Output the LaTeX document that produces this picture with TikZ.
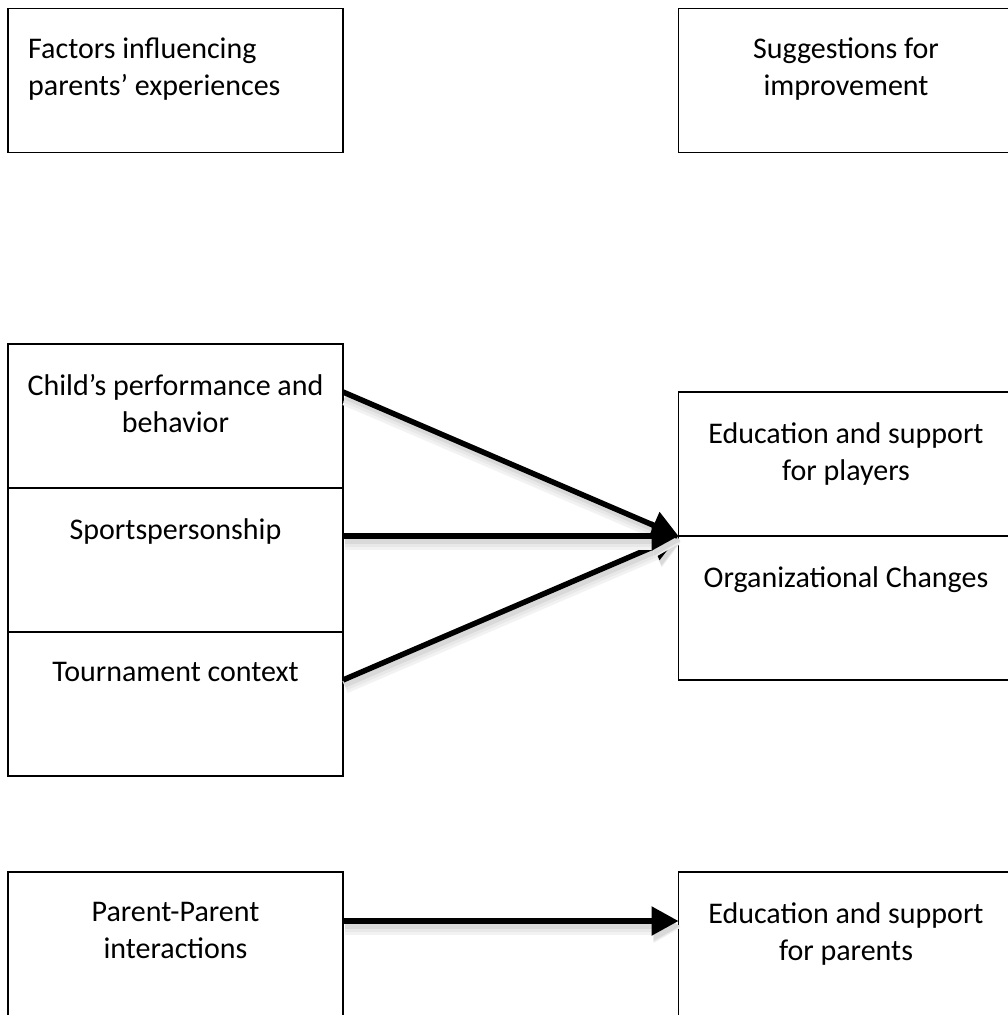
\documentclass[tikz,border=0pt]{standalone}
\usepackage{fontspec}
\setmainfont{Carlito}
\usetikzlibrary{arrows.meta,calc}
\begin{document}
\begin{tikzpicture}[x=1pt,y=-1pt,
  box/.style={draw=black, line width=1.5pt, minimum width=335pt, minimum height=144pt, inner sep=0pt, outer sep=0pt},
  lbl/.style={font=\fontsize{30pt}{37pt}\selectfont, align=center, inner sep=0pt, anchor=north},
  conn/.style={line width=5.5pt, -{Triangle[length=27pt,width=28pt]},
    preaction={draw=black!5, line width=13pt, transform canvas={shift={(2pt,-7pt)}}},
    preaction={draw=black!9, line width=9pt, transform canvas={shift={(2pt,-6pt)}}},
    preaction={draw=black!15, line width=5pt, transform canvas={shift={(2pt,-5pt)}}}}
]
\useasboundingbox (0,0) rectangle (1008,1015);
\clip (0,0) rectangle (1008,1015);

% top row
\node[box] (tl) at (175.5,80.5) {};
\node[box] (tr) at (846,80.5) {};
\node[lbl, anchor=north west, align=left] (tlt) at (28,38) {Factors influencing\\parents’ experiences};
\node[lbl] (trt) at (846,38) {Suggestions for\\improvement};

% middle left stack
\node[box] (c1) at (175.5,416) {};
\node[box] (c2) at (175.5,560) {};
\node[box] (c3) at (175.5,704) {};
\node[lbl] (c1t) at (175.5,374) {Child’s performance and\\behavior};
\node[lbl] (c2t) at (175.5,518) {Sportspersonship};
\node[lbl] (c3t) at (175.5,662) {Tournament context};

% middle right stack
\node[box] (r1) at (846,464) {};
\node[box] (r2) at (846,608) {};
\node[lbl] (r1t) at (846,422) {Education and support\\for players};
\node[lbl] (r2t) at (846,566) {Organizational Changes};

% bottom row
\node[box] (bl) at (175.5,944) {};
\node[box] (br) at (846,944) {};
\node[lbl] (blt) at (175.5,902) {Parent-Parent\\interactions};
\node[lbl] (brt) at (846,902) {Education and support\\for parents};

% connector end points
\coordinate (s1) at ($(c1.north east)+(0,48)$);
\coordinate (s2) at ($(c2.north east)+(0,48)$);
\coordinate (s3) at ($(c3.north east)+(0,48)$);
\coordinate (s4) at ($(bl.north east)+(0,49)$);
\coordinate (e4) at ($(br.north west)+(0,49)$);

\draw[conn] (s1) -- (r1.south west);
\draw[conn] (s3) -- (r1.south west);
\draw[conn] (s2) -- (r1.south west);
\draw[conn] (s4) -- (e4);
\end{tikzpicture}
\end{document}
